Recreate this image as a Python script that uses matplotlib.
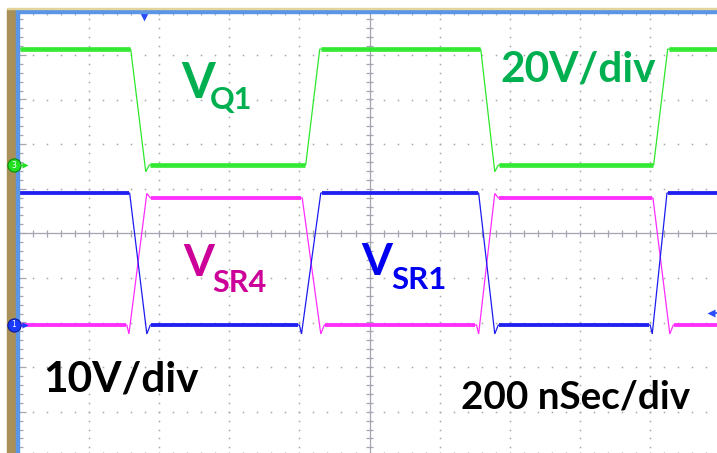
import numpy as np
import matplotlib
matplotlib.use("Agg")
import matplotlib.pyplot as plt
from matplotlib.collections import LineCollection

# ---- waveform data (time in ns, amplitude in volts) ----
t_q1 = [0, 319, 362, 372, 818, 858, 1317, 1357, 1367, 1810, 1850, 2000]
v_q1 = [52, 52, -3, 0, 0, 52, 52, -3, 0, 0, 52, 52]

t_sr1 = [0, 316, 365, 375, 800, 806, 861, 1311, 1357, 1367, 1800, 1806, 1848, 2000]
v_sr1 = [29.6, 29.6, -2, 0, 0, -2, 29.6, 29.6, -2, 0, 0, -2, 29.6, 29.6]

t_sr4 = [0, 308, 314, 365, 375, 808, 861, 871, 1305, 1311, 1357, 1367, 1808, 1856, 1866, 2000]
v_sr4 = [0, 0, -2, 29.5, 28.5, 28.5, -2, 0, 0, -2, 29.5, 28.5, 28.5, -2, 0, 0]

# channel settings: volts per division and ground offset (divisions)
scale_q1, offset_q1 = 20, 1.53
scale_sr, offset_sr = 10, -2.056
trig_level = 2.7          # volts on channel 1
trig_time = 357           # ns

labels_time = "200 nSec/div"

# ---- figure geometry (pixels) ----
W, H = 717, 453
DPI = 100
X0, XW = 18.8, 701.5       # plot left edge and width
Y0, YH = 10.3, 446.0       # plot top edge and height
T_MAX = 2000.0
px_per_ns = XW / T_MAX
px_per_div = YH / 10.0

fig = plt.figure(figsize=(W / DPI, H / DPI), dpi=DPI)
fig.patch.set_facecolor("white")
ax = fig.add_axes([X0 / W, 1 - (Y0 + YH) / H, XW / W, YH / H])
ax.set_xlim(0, T_MAX)
ax.set_ylim(-5, 5)
ax.axis("off")


def dx(px):
    return px / px_per_ns


def dy(px):
    return px / px_per_div


def to_div(v, scale, off):
    return off + np.asarray(v, dtype=float) / scale


# ---- graticule ----
dot_col = "#a8a8a8"
minor_t = np.arange(0, T_MAX + 1, 40)
minor_y = np.arange(-5, 5.001, 0.2)
for k in range(1, 10):
    if k == 5:
        continue
    ax.plot(np.full_like(minor_y, k * 200), minor_y, ls="none", marker="s",
            ms=1.1, mfc=dot_col, mec="none")
for j in range(-4, 5):
    if j == 0:
        continue
    ax.plot(minor_t, np.full_like(minor_t, j), ls="none", marker="s",
            ms=1.1, mfc=dot_col, mec="none")

axis_col = "#a4a4b2"
ax.axvline(1000, color=axis_col, lw=0.9)
ax.axhline(0, color=axis_col, lw=0.9)
segs = []
for yv in minor_y:
    segs.append([(1000 - dx(3.5), yv), (1000 + dx(3.5), yv)])
for tv in minor_t:
    segs.append([(tv, -dy(3.5)), (tv, dy(3.5))])
# ticks on the frame edges
for tv in minor_t:
    segs.append([(tv, 5), (tv, 5 - dy(4.5))])
    segs.append([(tv, -5), (tv, -5 + dy(4.5))])
for yv in minor_y:
    ln = 7.5 if abs(yv - round(yv)) < 1e-6 else 4.5
    segs.append([(0, yv), (dx(ln), yv)])
ax.add_collection(LineCollection(segs, colors=axis_col, linewidths=0.9))

# ---- traces ----
traces = [
    (t_q1, to_div(v_q1, scale_q1, offset_q1), "#2de82d", 3.4),
    (t_sr4, to_div(v_sr4, scale_sr, offset_sr), "#ff2cff", 2.8),
    (t_sr1, to_div(v_sr1, scale_sr, offset_sr), "#1c1cf0", 2.8),
]
for t, y, col, band in traces:
    ax.plot(t, y, color=col, lw=0.9, solid_joinstyle="miter")
    # noise band on the flat portions
    for i in range(len(t) - 1):
        if abs(y[i] - y[i + 1]) < 1e-9:
            ax.plot([t[i] + 3, t[i + 1] - 3], [y[i], y[i + 1]], color=col,
                    lw=band, solid_capstyle="butt", alpha=0.95)

# ---- trigger indicators ----
ax.plot([trig_time], [5 - dy(4.5)], marker="v", ms=8, color="#2a4cff",
        mec="none", clip_on=False)
ty = to_div(trig_level, scale_sr, offset_sr)
ax.plot([T_MAX - dx(6), T_MAX - dx(0)], [ty, ty], color="#2a4cff", lw=1.2,
        clip_on=False)
ax.plot([T_MAX - dx(9)], [ty], marker="<", ms=6, color="#2a4cff", mec="none",
        clip_on=False)

# ---- frame ----
def fig_px(x, y):
    return x / W, 1 - y / H

fig.patches.append(plt.Rectangle(fig_px(7, H), 9 / W, (H - 9) / H,
                                 transform=fig.transFigure, color="#a89058",
                                 zorder=5))
fig.patches.append(plt.Rectangle(fig_px(16, H), 2.5 / W, (H - 10) / H,
                                 transform=fig.transFigure, color="#5b95e5",
                                 zorder=6))
fig.patches.append(plt.Rectangle(fig_px(16, 12.5), (W - 16) / W, 2.5 / H,
                                 transform=fig.transFigure, color="#5b95e5",
                                 zorder=6))
fig.patches.append(plt.Rectangle(fig_px(7, 9), (W - 7) / W, 1.2 / H,
                                 transform=fig.transFigure, color="#e2d49a",
                                 zorder=6))

# ---- channel ground markers ----
def chan_marker(ypx, face, edge, num):
    x, y = fig_px(14, ypx)
    fig.add_artist(plt.Line2D([x], [y], marker="o", ms=9.5, mfc=face, mec=edge,
                              mew=0.8, transform=fig.transFigure, zorder=8))
    fig.text(x, y, num, color="white", fontsize=5.5, ha="center", va="center",
             zorder=9, family="DejaVu Sans")
    xa0, _ = fig_px(20, ypx)
    xa1, _ = fig_px(25, ypx)
    fig.add_artist(plt.Line2D([xa0, xa1], [y, y], color=face, lw=1.0,
                              transform=fig.transFigure, zorder=8))
    fig.add_artist(plt.Line2D([xa1], [y], marker=">", ms=4.5, mfc=face,
                              mec="none", transform=fig.transFigure, zorder=8))

g_px = Y0 + (5 - offset_q1) * px_per_div
b_px = Y0 + (5 - offset_sr) * px_per_div
chan_marker(g_px, "#22e022", "#0c8a0c", "3")
chan_marker(b_px, "#1a3cff", "#0a1a9a", "1")

# ---- annotations ----
font = "Lato"


def label(x, y, s, size, color):
    fig.text(*fig_px(x, y), s, fontsize=size, color=color, fontweight="bold",
             family=font, ha="left", va="baseline", zorder=10)


green_txt, mag_txt, blue_txt = "#00b050", "#cc0099", "#0000f0"
label(181, 98, "V", 35, green_txt)
label(210, 109, "Q1", 22, green_txt)
label(500, 82, "20V/div", 30.5, green_txt)
label(183, 276, "V", 32, mag_txt)
label(212, 292, "SR4", 22, mag_txt)
label(361, 275, "V", 32, blue_txt)
label(391, 289, "SR1", 22.5, blue_txt)
label(43, 392, "10V/div", 30.5, "black")
label(461, 409, labels_time, 27.8, "black")

fig.savefig("out.png", dpi=DPI, facecolor="white")
